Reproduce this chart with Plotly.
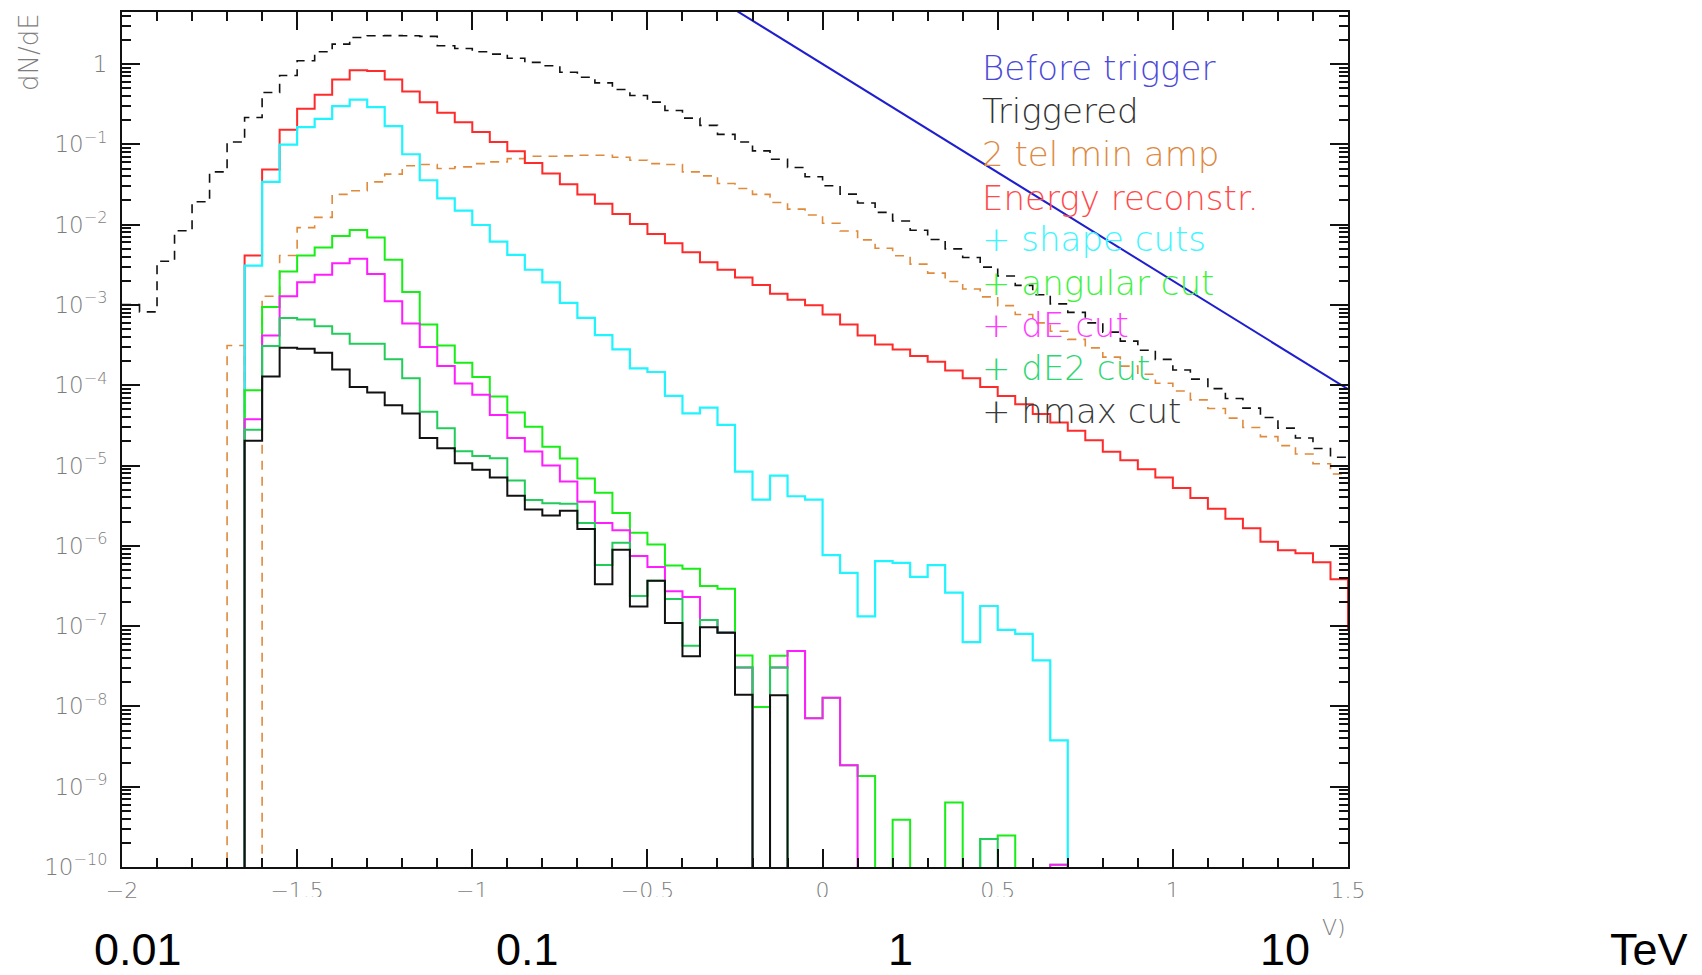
import numpy as np
import plotly.graph_objects as go

# ---------------- data (dN/dE per bin; bins in log10(E/TeV), width 0.05, from -2 to 1.5) ----------------
BIN_LO = -2.0
BIN_W = 0.05

triggered = [1.01e-3, 8.2e-4, 3.5e-3, 8.4e-3, 1.93e-2, 4.54e-2, 0.107, 0.216, 0.442, 0.721,
             1.10, 1.42, 1.77, 2.14, 2.25, 2.26, 2.25, 2.21, 1.69, 1.56,
             1.42, 1.33, 1.18, 1.05, 0.953, 0.789, 0.684, 0.582, 0.481, 0.406,
             0.335, 0.264, 0.212, 0.172, 0.133, 0.107, 0.0828, 0.0652, 0.0514, 0.0394,
             0.0305, 0.0240, 0.0186, 0.0142, 0.0111, 8.51e-3, 6.52e-3, 4.99e-3, 3.89e-3, 2.96e-3,
             2.29e-3, 1.75e-3, 1.34e-3, 1.03e-3, 8.07e-4, 5.98e-4, 4.58e-4, 3.54e-4, 2.72e-4, 2.10e-4,
             1.55e-4, 1.19e-4, 9.08e-5, 6.82e-5, 5.18e-5, 3.96e-5, 2.92e-5, 2.20e-5, 1.63e-5, 1.27e-5]

two_tel = [0, 0, 0, 0, 0, 0, 3.13e-4, 0, 1.28e-3, 4.13e-3,
           9.18e-3, 0.0123, 0.0238, 0.0264, 0.0341, 0.0425, 0.0540, 0.0560, 0.0499, 0.0524,
           0.0575, 0.0604, 0.0664, 0.0710, 0.0710, 0.0718, 0.0731, 0.0731, 0.0690, 0.0634,
           0.0575, 0.0560, 0.0454, 0.0405, 0.0325, 0.0282, 0.0238, 0.0189, 0.0156, 0.0132,
           0.0104, 8.34e-3, 6.46e-3, 5.08e-3, 4.09e-3, 3.22e-3, 2.49e-3, 1.96e-3, 1.58e-3, 1.26e-3,
           9.79e-4, 7.59e-4, 5.97e-4, 4.71e-4, 3.72e-4, 2.92e-4, 2.24e-4, 1.73e-4, 1.37e-4, 1.06e-4,
           8.49e-5, 6.56e-5, 5.13e-5, 3.89e-5, 2.98e-5, 2.29e-5, 1.77e-5, 1.39e-5, 1.05e-5, 7.85e-6]

# last entry is the overflow bin (1.50-1.55), only its left edge shows at the frame
energy_reco = [0, 0, 0, 0, 0, 0, 0, 4.12e-3, 0.0485, 0.152,
               0.277, 0.413, 0.640, 0.836, 0.820, 0.640, 0.454, 0.335, 0.247, 0.189,
               0.142, 0.107, 0.0818, 0.0587, 0.0433, 0.0319, 0.0238, 0.0182, 0.0136, 0.0102,
               7.66e-3, 5.86e-3, 4.54e-3, 3.40e-3, 2.74e-3, 2.20e-3, 1.77e-3, 1.38e-3, 1.16e-3, 9.91e-4,
               7.59e-4, 5.70e-4, 4.17e-4, 3.22e-4, 2.79e-4, 2.31e-4, 1.96e-4, 1.53e-4, 1.22e-4, 9.51e-5,
               7.36e-5, 5.81e-5, 4.37e-5, 3.44e-5, 2.71e-5, 2.07e-5, 1.48e-5, 1.16e-5, 8.99e-6, 7.08e-6,
               5.25e-6, 3.94e-6, 2.89e-6, 2.17e-6, 1.65e-6, 1.12e-6, 8.81e-7, 8.09e-7, 6.25e-7, 3.82e-7,
               9.42e-8]

shape_cuts = [0, 0, 0, 0, 0, 0, 0, 3.08e-3, 0.0341, 0.0991,
              0.164, 0.208, 0.299, 0.361, 0.290, 0.169, 0.0752, 0.0357, 0.0212, 0.0149,
              9.89e-3, 6.15e-3, 4.20e-3, 2.74e-3, 1.91e-3, 1.06e-3, 6.89e-4, 4.20e-4, 2.79e-4, 1.62e-4,
              1.46e-4, 7.36e-5, 4.45e-5, 5.27e-5, 3.21e-5, 8.39e-6, 3.76e-6, 7.50e-6, 4.14e-6, 3.75e-6,
              7.64e-7, 4.61e-7, 1.32e-7, 6.44e-7, 6.14e-7, 4.11e-7, 5.74e-7, 2.61e-7, 6.31e-8, 1.78e-7,
              8.97e-8, 8.00e-8, 3.74e-8, 3.78e-9, 0, 0, 0, 0, 0, 0,
              0, 0, 0, 0, 0, 0, 0, 0, 0, 0]

angular_cut = [0, 0, 0, 0, 0, 0, 0, 8.67e-5, 9.44e-4, 2.61e-3,
               4.13e-3, 5.19e-3, 7.23e-3, 8.59e-3, 6.90e-3, 3.65e-3, 1.45e-3, 5.70e-4, 3.13e-4, 1.91e-4,
               1.27e-4, 7.23e-5, 4.57e-5, 3.03e-5, 1.71e-5, 1.22e-5, 6.89e-6, 4.59e-6, 2.56e-6, 1.45e-6,
               1.04e-6, 5.69e-7, 5.18e-7, 3.16e-7, 2.92e-7, 4.32e-8, 9.82e-9, 4.28e-8, 4.89e-8, 7.11e-9,
               1.28e-8, 1.85e-9, 1.36e-9, 0, 3.88e-10, 0, 0, 6.37e-10, 0, 2.24e-10,
               2.46e-10, 0, 0, 1.07e-10, 0, 0, 0, 0, 0, 0,
               0, 0, 0, 0, 0, 0, 0, 0, 0, 0]

de_cut = [0, 0, 0, 0, 0, 0, 0, 3.78e-5, 4.17e-4, 1.28e-3,
          1.91e-3, 2.37e-3, 3.31e-3, 3.75e-3, 2.42e-3, 1.11e-3, 5.86e-4, 2.99e-4, 1.73e-4, 1.05e-4,
          7.59e-5, 4.25e-5, 2.20e-5, 1.50e-5, 9.98e-6, 6.32e-6, 3.55e-6, 1.93e-6, 1.56e-6, 7.46e-7,
          5.43e-7, 2.71e-7, 2.30e-7, 1.19e-7, 8.32e-8, 3.06e-8, 0, 3.06e-8, 4.89e-8, 7.11e-9,
          1.28e-8, 1.85e-9, 0, 0, 0, 0, 0, 0, 0, 0,
          0, 0, 0, 1.07e-10, 0, 0, 0, 0, 0, 0,
          0, 0, 0, 0, 0, 0, 0, 0, 0, 0]

de2_cut = [0, 0, 0, 0, 0, 0, 0, 2.79e-5, 3.07e-4, 6.89e-4,
           6.58e-4, 5.43e-4, 4.37e-4, 3.28e-4, 3.28e-4, 2.10e-4, 1.22e-4, 4.67e-5, 2.92e-5, 1.51e-5,
           1.31e-5, 1.23e-5, 6.50e-6, 3.72e-6, 3.40e-6, 3.34e-6, 1.93e-6, 5.75e-7, 1.09e-6, 2.37e-7,
           3.66e-7, 2.17e-7, 5.69e-8, 1.19e-7, 8.32e-8, 3.06e-8, 0, 3.06e-8, 0, 0,
           0, 0, 0, 0, 0, 0, 0, 0, 0, 2.24e-10,
           0, 0, 0, 0, 0, 0, 0, 0, 0, 0,
           0, 0, 0, 0, 0, 0, 0, 0, 0, 0]

hmax_cut = [0, 0, 0, 0, 0, 0, 0, 2.04e-5, 1.28e-4, 2.92e-4,
            2.84e-4, 2.54e-4, 1.57e-4, 9.51e-5, 8.09e-5, 5.64e-5, 4.45e-5, 2.20e-5, 1.64e-5, 1.07e-5,
            8.85e-6, 7.08e-6, 4.20e-6, 2.84e-6, 2.39e-6, 2.74e-6, 1.62e-6, 3.33e-7, 8.91e-7, 1.75e-7,
            3.66e-7, 1.09e-7, 4.20e-8, 9.68e-8, 8.24e-8, 1.40e-8, 0, 1.38e-8, 0, 0,
            0, 0, 0, 0, 0, 0, 0, 0, 0, 0,
            0, 0, 0, 0, 0, 0, 0, 0, 0, 0,
            0, 0, 0, 0, 0, 0, 0, 0, 0, 0]

# "Before trigger": power-law spectrum dN/dE = norm * E^-index (E in TeV)
before_norm = 1.0
before_index = 2.7

legend_labels = ["Before trigger", "Triggered", "2 tel min amp", "Energy reconstr.",
                 "+ shape cuts", "+ angular cut", "+ dE cut", "+ dE2 cut", "+ hmax cut"]

x_tick_vals = [-2, -1.5, -1, -0.5, 0, 0.5, 1, 1.5]
x_tick_text = ["\u22122", "\u22121.5", "\u22121", "\u22120.5", "0", "0.5", "1", "1.5"]
y_tick_exps = [0, -1, -2, -3, -4, -5, -6, -7, -8, -9, -10]
energy_labels = ["0.01", "0.1", "1", "10", "TeV"]

# ---------------- geometry ----------------
W, H = 1702, 975
ML, MR, MT, MB = 122, 354, 10, 108
PW, PH = W - ML - MR, H - MT - MB


def px(xp):
    return (xp - ML) / PW


def py(yp):
    return 1 - (yp - MT) / PH


FLOOR = 1e-14  # empty bins drawn below the frame, as ROOT does on a log axis


def step_xy(values):
    edges = [round(BIN_LO + BIN_W * i, 4) for i in range(len(values) + 1)]
    ys = [v if v > 0 else FLOOR for v in values]
    return edges, ys + [ys[-1]]


fig = go.Figure()

# blue power law
xb = np.linspace(-0.4, 1.5, 40)
yb = before_norm * (10.0 ** xb) ** (-before_index)
fig.add_trace(go.Scatter(x=xb, y=yb, mode="lines", line=dict(color="#1f1fd0", width=2),
                         hoverinfo="skip", showlegend=False))

series = [
    (triggered, "#111111", "9px,7px", 1.6),
    (two_tel, "#e08a3c", "9px,7px", 1.6),
    (energy_reco, "#ff2a2a", None, 2),
    (shape_cuts, "#1ff4ff", None, 2.2),
    (angular_cut, "#16ee16", None, 2),
    (de_cut, "#ff1cff", None, 2),
    (de2_cut, "#22cc5a", None, 2),
    (hmax_cut, "#111111", None, 2),
]
for vals, col, dash, lw in series:
    xs, ys = step_xy(vals)
    ln = dict(color=col, width=lw, shape="hv")
    if dash:
        ln["dash"] = dash
    fig.add_trace(go.Scatter(x=xs, y=ys, mode="lines", line=ln, hoverinfo="skip", showlegend=False))

ROOT_FONT = "DejaVu Sans"
GRAY = "#7d7d7d"

minor_x = [round(-2 + 0.1 * i, 2) for i in range(36) if round((-2 + 0.1 * i) * 2, 4) % 1 != 0]
minor_y = [m * 10.0 ** e for e in range(-10, 1) for m in range(2, 10)]

fig.update_xaxes(range=[-2, 1.5], tickvals=x_tick_vals, ticktext=x_tick_text,
                 ticks="inside", ticklen=18, tickwidth=1.5, tickcolor="#111",
                 showline=True, linewidth=2, linecolor="#111", mirror="allticks",
                 showgrid=False, zeroline=False,
                 tickfont=dict(family=ROOT_FONT, size=22, color=GRAY, weight=200),
                 ticklabelstandoff=3,
                 minor=dict(tickvals=minor_x, ticks="inside", ticklen=9, tickwidth=1.5,
                            tickcolor="#111", showgrid=False))
fig.update_yaxes(type="log", range=[-10, 0.648],
                 tickvals=[10.0 ** e for e in y_tick_exps],
                 ticktext=["1"] + ["10<sup>\u2212%d</sup>" % (-e) for e in y_tick_exps[1:]],
                 ticks="inside", ticklen=18, tickwidth=1.5, tickcolor="#111",
                 showline=True, linewidth=2, linecolor="#111", mirror="allticks",
                 showgrid=False, zeroline=False,
                 tickfont=dict(family=ROOT_FONT, size=23, color=GRAY, weight=200),
                 ticklabelstandoff=8,
                 minor=dict(tickvals=minor_y, ticks="inside", ticklen=9, tickwidth=1.5,
                            tickcolor="#111", showgrid=False))

annotations = []
leg_colors = ["#4a4ad8", "#333333", "#dd8a44", "#ff4a4a", "#3ff6ff",
              "#3ef23e", "#ff3cff", "#2ed672", "#3a3a3a"]
leg_y = [66, 109, 152, 196, 238, 282, 324, 367, 410]
for lab, col, yy in zip(legend_labels, leg_colors, leg_y):
    annotations.append(dict(x=px(980), y=py(yy), xref="paper", yref="paper", text=lab,
                            showarrow=False, xanchor="left", yanchor="middle",
                            font=dict(family=ROOT_FONT, size=34, color=col, weight=200)))

annotations.append(dict(x=px(29), y=py(50), xref="paper", yref="paper", text="dN/dE",
                        textangle=-90, showarrow=False, xanchor="center", yanchor="middle",
                        font=dict(family=ROOT_FONT, size=26, color=GRAY, weight=200)))
annotations.append(dict(x=px(1334), y=py(928), xref="paper", yref="paper", text="V)",
                        showarrow=False, xanchor="center", yanchor="middle",
                        font=dict(family=ROOT_FONT, size=22, color=GRAY, weight=200)))

e_label_x = [138, 527, 900, 1285, 1649]
for lab, xx in zip(energy_labels, e_label_x):
    annotations.append(dict(x=px(xx), y=py(950), xref="paper", yref="paper", text=lab,
                            showarrow=False, xanchor="center", yanchor="middle",
                            font=dict(family="Liberation Sans", size=45, color="#000")))

shapes = [dict(type="rect", xref="paper", yref="paper", x0=px(150), x1=px(1318),
               y0=py(975), y1=py(897), fillcolor="white", line=dict(width=0), layer="above")]

fig.update_layout(width=W, height=H, margin=dict(l=ML, r=MR, t=MT, b=MB),
                  paper_bgcolor="white", plot_bgcolor="white",
                  annotations=annotations, shapes=shapes, showlegend=False)

fig.write_html("out.html", config={"displayModeBar": False},
               post_script="document.body.style.margin='0';document.body.style.overflow='hidden';")
